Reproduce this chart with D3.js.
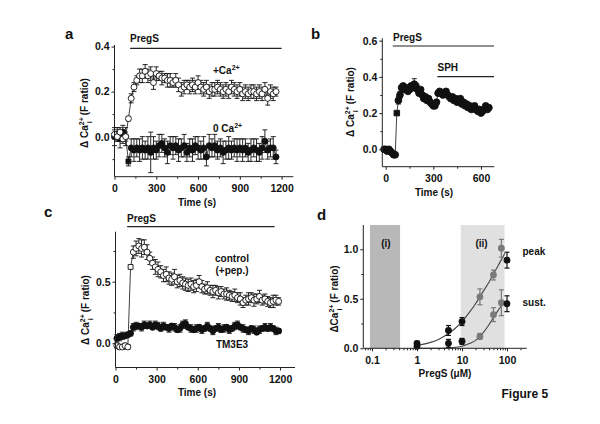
<!DOCTYPE html>
<html><head><meta charset="utf-8">
<script src="https://cdn.jsdelivr.net/npm/d3@7"></script>
<style>
body{margin:0;background:#fff}
text{font-family:"Liberation Sans",Arial,Helvetica,sans-serif;font-weight:bold;fill:#111}
</style>
</head><body><svg id="c" width="600" height="424"></svg>
<script>
// ---------- DATA ----------
// Panel a
const aTime = [0,20,40,60,80,100,120,140,160,180,200,220,240,260,280,300,320,340,360,380,400,420,440,460,480,500,520,540,560,580,600,620,640,660,680,700,720,740,760,780,800,820,840,860,880,900,920,940,960,980,1000,1020,1040,1060,1080,1100,1120,1140,1160];
const aPlusCa = [0.01,0.00,0.02,-0.01,0.00,0.08,0.17,0.22,0.25,0.27,0.27,0.29,0.27,0.28,0.24,0.28,0.27,0.26,0.26,0.25,0.25,0.24,0.25,0.23,0.21,0.22,0.23,0.22,0.23,0.22,0.24,0.22,0.21,0.22,0.20,0.21,0.21,0.22,0.21,0.20,0.21,0.20,0.22,0.21,0.20,0.21,0.19,0.20,0.19,0.20,0.20,0.19,0.20,0.19,0.21,0.17,0.20,0.19,0.20];
const aPlusErr = [0.02,0.02,0.02,0.02,0.02,0.01,0.02,0.02,0.02,0.03,0.03,0.03,0.03,0.03,0.03,0.03,0.02,0.03,0.02,0.03,0.03,0.02,0.03,0.03,0.03,0.03,0.02,0.03,0.03,0.03,0.03,0.03,0.03,0.03,0.03,0.03,0.03,0.03,0.03,0.03,0.03,0.03,0.03,0.03,0.03,0.03,0.03,0.03,0.03,0.03,0.03,0.03,0.03,0.03,0.03,0.03,0.03,0.03,0.02];
const aZeroCa = [0.00,0.01,-0.01,0.02,0.00,-0.11,-0.05,-0.06,-0.05,-0.06,-0.05,-0.06,-0.05,-0.07,-0.05,-0.06,-0.04,-0.03,-0.05,-0.07,-0.04,-0.05,-0.04,-0.06,-0.05,-0.04,-0.07,-0.05,-0.06,-0.04,-0.05,-0.06,-0.05,-0.09,-0.04,-0.05,-0.04,-0.06,-0.05,-0.07,-0.06,-0.05,-0.06,-0.05,-0.06,-0.05,-0.06,-0.05,-0.07,-0.06,-0.05,-0.06,-0.07,-0.05,-0.02,-0.06,-0.05,-0.05,-0.09];
const aZeroErr = [0.04,0.03,0.04,0.03,0.04,0.02,0.04,0.05,0.04,0.05,0.05,0.04,0.05,0.09,0.05,0.04,0.05,0.04,0.04,0.05,0.04,0.05,0.04,0.05,0.04,0.05,0.04,0.04,0.05,0.04,0.05,0.04,0.05,0.04,0.05,0.04,0.05,0.04,0.04,0.05,0.04,0.05,0.04,0.04,0.05,0.04,0.05,0.04,0.04,0.05,0.04,0.05,0.04,0.05,0.05,0.04,0.04,0.05,0.03];
const aPregS = [112, 1200];

// Panel b
const bTime = [-10,0,10,20,30,40,50,60,70,80,90,100,110,120,130,140,150,160,170,180,190,200,210,220,230,240,250,260,270,280,290,300,310,320,330,340,350,360,370,380,390,400,410,420,430,440,450,460,470,480,490,500,510,520,530,540,550,560,570,580,590,600,610,620,630,640,650];
const bVal = [0.00,0.00,-0.01,0.00,-0.01,-0.02,-0.03,-0.03,0.20,0.27,0.30,0.34,0.35,0.33,0.34,0.32,0.33,0.35,0.34,0.36,0.35,0.33,0.31,0.33,0.30,0.28,0.29,0.27,0.28,0.26,0.25,0.24,0.24,0.26,0.31,0.32,0.31,0.30,0.31,0.32,0.30,0.29,0.28,0.29,0.27,0.28,0.26,0.27,0.28,0.25,0.26,0.24,0.25,0.23,0.24,0.22,0.23,0.24,0.22,0.21,0.22,0.20,0.21,0.22,0.24,0.22,0.23];
const bErr = [0,0,0,0,0,0,0,0,0,0.02,0.02,0,0,0,0,0,0,0,0,0.03,0,0,0,0,0,0,0,0,0,0,0,0,0,0,0,0,0,0,0,0,0,0,0,0,0,0,0,0,0,0,0,0,0,0,0,0,0,0,0,0,0,0,0,0,0,0,0];
const bPregS = [44, 682];
const bSPH = [325, 682];

// Panel c
const cTime = [10,30,50,70,90,110,130,150,170,190,210,230,250,270,290,310,330,350,370,390,410,430,450,470,490,510,530,550,570,590,610,630,650,670,690,710,730,750,770,790,810,830,850,870,890,910,930,950,970,990,1010,1030,1050,1070,1090,1110,1130,1150,1170,1190];
const cCtrl = [-0.02,-0.03,-0.03,-0.02,-0.03,0.62,0.74,0.77,0.79,0.77,0.78,0.74,0.69,0.65,0.62,0.60,0.58,0.55,0.56,0.53,0.52,0.54,0.50,0.51,0.49,0.48,0.47,0.48,0.46,0.47,0.50,0.46,0.44,0.45,0.43,0.42,0.43,0.41,0.42,0.40,0.40,0.39,0.38,0.39,0.37,0.36,0.33,0.35,0.36,0.37,0.35,0.36,0.38,0.35,0.36,0.34,0.33,0.34,0.35,0.34];
const cCtrlErr = [0.02,0.02,0.02,0.02,0.02,0.01,0.05,0.06,0.06,0.07,0.06,0.06,0.05,0.05,0.06,0.06,0.05,0.05,0.06,0.05,0.05,0.06,0.05,0.05,0.05,0.05,0.05,0.05,0.05,0.05,0.05,0.05,0.04,0.05,0.04,0.05,0.04,0.05,0.04,0.04,0.05,0.04,0.04,0.05,0.04,0.05,0.04,0.04,0.05,0.04,0.05,0.04,0.05,0.04,0.04,0.04,0.04,0.05,0.04,0.03];
const cTM = [0.04,0.05,0.06,0.06,0.07,0.08,0.13,0.14,0.14,0.13,0.15,0.14,0.15,0.13,0.15,0.14,0.12,0.14,0.13,0.12,0.14,0.13,0.11,0.12,0.15,0.16,0.13,0.12,0.11,0.12,0.13,0.11,0.12,0.14,0.12,0.10,0.12,0.13,0.11,0.12,0.13,0.11,0.12,0.14,0.15,0.13,0.12,0.11,0.10,0.12,0.11,0.09,0.11,0.12,0.13,0.12,0.13,0.12,0.10,0.10];
const cTMErr = [0.03,0.03,0.03,0.02,0.02,0.02,0.03,0.03,0.02,0.03,0.03,0.02,0.03,0.02,0.03,0.03,0.02,0.03,0.02,0.03,0.02,0.03,0.02,0.03,0.03,0.03,0.02,0.03,0.02,0.03,0.02,0.03,0.02,0.03,0.02,0.03,0.02,0.03,0.02,0.03,0.02,0.03,0.02,0.03,0.03,0.02,0.03,0.02,0.03,0.02,0.03,0.02,0.03,0.02,0.03,0.02,0.03,0.02,0.03,0.02];
const cPregS = [85, 1160];

// Panel d
const dConc = [1, 5, 10, 25, 50, 75, 100];
const dPeak = [0.05, 0.18, 0.27, 0.52, 0.74, 1.01, 0.89];
const dPeakErr = [0.02, 0.05, 0.04, 0.08, 0.05, 0.09, 0.08];
const dSust = [0.02, 0.05, 0.07, 0.12, 0.34, 0.46, 0.45];
const dSustErr = [0.02, 0.04, 0.03, 0.03, 0.07, 0.13, 0.08];
const dGray = [false, false, false, true, true, true, false];
const dPeakFitX = [1, 2, 3, 5, 7, 10, 15, 20, 30, 40, 50, 70, 90];
const dPeakFitY = [0.03, 0.06, 0.09, 0.15, 0.20, 0.27, 0.37, 0.45, 0.58, 0.67, 0.75, 0.87, 0.96];
const dSustFitX = [1, 3, 5, 7, 10, 15, 20, 30, 40, 50, 70, 90];
const dSustFitY = [0.00, 0.00, 0.005, 0.01, 0.02, 0.05, 0.08, 0.16, 0.24, 0.31, 0.41, 0.47];
const dRegionI = [0.09, 0.42];
const dRegionII = [9.4, 88];

// Tick values
const tTicksMajor = [0, 300, 600, 900, 1200];
const tTicksMinor = [150, 450, 750, 1050];
const bTicksMajor = [0, 300, 600];
const bTicksMinor = [150, 450];
const aYMajor = [0, 0.2, 0.4], aYMinor = [-0.1, 0.1, 0.3];
const bYMajor = [0, 0.2, 0.4, 0.6], bYMinor = [0.1, 0.3, 0.5];
const cYMajor = [0, 0.5], cYMinor = [0.25, 0.75];
const dYMajor = [0, 0.5, 1.0], dYMinor = [0.25, 0.75];
const dXMajor = [0.1, 1, 10, 100];
const dXMinor = [0.07,0.08,0.09,0.2,0.3,0.4,0.5,0.6,0.7,0.8,0.9,2,3,4,5,6,7,8,9,20,30,40,50,60,70,80,90,200];

// ---------- DRAWING ----------
const svg = d3.select("#c");
const FONT = '"Liberation Sans", Arial, Helvetica, sans-serif';
const AX = "#222";

function axes(x, y, xMaj, xMin, yMaj, yMin, xFmt, yFmt) {
  const g = svg.append("g");
  const [x0, x1] = x.range();
  const [y0, y1] = y.range();
  const style = s => s.attr("font-size", 10.5).attr("font-family", FONT).attr("font-weight", "bold");
  const gx = g.append("g").attr("transform", `translate(0,${y0})`)
    .call(d3.axisBottom(x).tickValues(xMaj).tickSize(3).tickSizeOuter(0).tickPadding(5).tickFormat(xFmt));
  gx.select(".domain").remove(); style(gx);
  const gx2 = g.append("g").attr("transform", `translate(0,${y0})`)
    .call(d3.axisBottom(x).tickValues(xMin).tickSize(2).tickFormat(""));
  gx2.select(".domain").remove();
  const gy = g.append("g").attr("transform", `translate(${x0},0)`)
    .call(d3.axisLeft(y).tickValues(yMaj).tickSize(3).tickSizeOuter(0).tickPadding(2).tickFormat(yFmt));
  gy.select(".domain").remove(); style(gy);
  const gy2 = g.append("g").attr("transform", `translate(${x0},0)`)
    .call(d3.axisLeft(y).tickValues(yMin).tickSize(2).tickFormat(""));
  gy2.select(".domain").remove();
  g.selectAll(".tick line").attr("stroke", AX);
  g.selectAll(".tick text").attr("fill", "#111");
  g.append("line").attr("x1", x0).attr("x2", x1).attr("y1", y0).attr("y2", y0).attr("stroke", AX);
  g.append("line").attr("x1", x0).attr("x2", x0).attr("y1", y0).attr("y2", y1).attr("stroke", AX);
}

function series(x, y, xs, ys, errs, filled, squares, msize, color) {
  color = color || "#111";
  const g = svg.append("g");
  const pts = xs.map((t, i) => ({ t, v: ys[i], e: errs ? errs[i] : 0, i }));
  g.append("path").datum(pts)
    .attr("d", d3.line().x(d => x(d.t)).y(d => y(d.v)))
    .attr("fill", "none").attr("stroke", "#111").attr("stroke-width", 0.8);
  const eb = g.selectAll(".eb").data(pts.filter(d => d.e > 0)).join("g");
  eb.append("line").attr("x1", d => x(d.t)).attr("x2", d => x(d.t))
    .attr("y1", d => y(d.v - d.e)).attr("y2", d => y(d.v + d.e)).attr("stroke", color).attr("stroke-width", 0.9);
  eb.append("line").attr("x1", d => x(d.t) - 2.5).attr("x2", d => x(d.t) + 2.5)
    .attr("y1", d => y(d.v + d.e)).attr("y2", d => y(d.v + d.e)).attr("stroke", color).attr("stroke-width", 0.9);
  eb.append("line").attr("x1", d => x(d.t) - 2.5).attr("x2", d => x(d.t) + 2.5)
    .attr("y1", d => y(d.v - d.e)).attr("y2", d => y(d.v - d.e)).attr("stroke", color).attr("stroke-width", 0.9);
  const sq = new Set(squares || []);
  g.selectAll(".pt").data(pts).join("path")
    .attr("transform", d => `translate(${x(d.t)},${y(d.v)})`)
    .attr("d", d => d3.symbol().type(sq.has(d.i) ? d3.symbolSquare : d3.symbolCircle).size(sq.has(d.i) ? msize * 0.85 : msize)())
    .attr("fill", filled ? color : "#fff").attr("stroke", color).attr("stroke-width", 0.9);
}

function text(x, y, str, size, anchor) {
  return svg.append("text").attr("x", x).attr("y", y).attr("font-size", size || 10)
    .attr("text-anchor", anchor || "start").text(str);
}
function caLabel(x, y, pre, anchor) {
  const t = svg.append("text").attr("x", x).attr("y", y).attr("font-size", 10).attr("text-anchor", anchor || "start");
  t.append("tspan").text(pre);
  t.append("tspan").attr("font-size", 7).attr("dy", -4).text("2+");
  return t;
}
function yLabel(x, yc, delta) {
  const t = svg.append("text").attr("transform", `translate(${x},${yc}) rotate(-90)`)
    .attr("text-anchor", "middle").attr("font-size", 10);
  t.append("tspan").text(delta + "Ca");
  t.append("tspan").attr("font-size", 7).attr("dy", -4).text("2+");
  t.append("tspan").attr("font-size", 7).attr("dx", -6).attr("dy", 7.5).text("i");
  t.append("tspan").attr("dx", 6).attr("dy", -3.5).text("(F ratio)");
}
function stimBar(x, t0, t1, yPix) {
  svg.append("line").attr("x1", x(t0)).attr("x2", x(t1)).attr("y1", yPix).attr("y2", yPix)
    .attr("stroke", "#222").attr("stroke-width", 1.2);
}
const f1 = d3.format(".1f"), fd = d3.format("d");

// Panel a
{
  const x = d3.scaleLinear().domain([0, 1284]).range([114.5, 293.3]);
  const y = d3.scaleLinear().domain([-0.178, 0.407]).range([176.7, 45]);
  series(x, y, aTime, aZeroCa, aZeroErr, true, [5], 28);
  series(x, y, aTime, aPlusCa, aPlusErr, false, [], 28);
  axes(x, y, tTicksMajor, tTicksMinor, aYMajor, aYMinor, fd, f1);
  stimBar(x, aPregS[0], aPregS[1], 48.3);
  text(130, 41.5, "PregS");
  caLabel(213, 73.5, "+Ca");
  caLabel(213, 131.5, "0 Ca");
  text(197, 206, "Time (s)", 10, "middle");
  yLabel(88, 113, "Δ ");
  text(65, 39, "a", 15);
}
// Panel b
{
  const x = d3.scaleLinear().domain([-21.4, 684]).range([382.3, 494.3]);
  const y = d3.scaleLinear().domain([-0.096, 0.613]).range([166.7, 38.3]);
  series(x, y, bTime, bVal, bErr, true, [8], 36);
  axes(x, y, bTicksMajor, bTicksMinor, bYMajor, bYMinor, fd, f1);
  stimBar(x, bPregS[0], bPregS[1], 46);
  stimBar(x, bSPH[0], bSPH[1], 76.7);
  text(393, 40.5, "PregS");
  text(437.5, 70.5, "SPH");
  text(434, 196, "Time (s)", 10, "middle");
  yLabel(354, 102, "Δ ");
  text(311, 39, "b", 15);
}
// Panel c
{
  const x = d3.scaleLinear().domain([0, 1309]).range([115.5, 295]);
  const y = d3.scaleLinear().domain([-0.197, 0.906]).range([367.5, 231.7]);
  series(x, y, cTime, cTM, cTMErr, true, [], 28);
  series(x, y, cTime, cCtrl, cCtrlErr, false, [5], 28);
  axes(x, y, tTicksMajor, tTicksMinor, cYMajor, cYMinor, fd, f1);
  stimBar(x, cPregS[0], cPregS[1], 226.7);
  text(127, 221.5, "PregS");
  text(232, 262, "control", 10, "middle");
  text(232, 274, "(+pep.)", 10, "middle");
  text(232, 347.5, "TM3E3", 10, "middle");
  text(197, 396, "Time (s)", 10, "middle");
  yLabel(89, 310, "Δ ");
  text(44, 217, "c", 15);
}
// Panel d
{
  const x = d3.scaleLog().domain([0.064, 274]).range([363.3, 526.7]);
  const y = d3.scaleLinear().domain([0, 1.245]).range([348.3, 225]);
  svg.append("rect").attr("x", x(dRegionI[0])).attr("width", x(dRegionI[1]) - x(dRegionI[0]))
    .attr("y", y(1.245)).attr("height", y(0) - y(1.245)).attr("fill", "#b8b8b8");
  svg.append("rect").attr("x", x(dRegionII[0])).attr("width", x(dRegionII[1]) - x(dRegionII[0]))
    .attr("y", y(1.245)).attr("height", y(0) - y(1.245)).attr("fill", "#e0e0e0");
  const line = d3.line().x(d => x(d[0])).y(d => y(d[1])).curve(d3.curveMonotoneX);
  svg.append("path").datum(dPeakFitX.map((c, i) => [c, dPeakFitY[i]])).attr("d", line)
    .attr("fill", "none").attr("stroke", "#444").attr("stroke-width", 1.1);
  svg.append("path").datum(dSustFitX.map((c, i) => [c, dSustFitY[i]])).attr("d", line)
    .attr("fill", "none").attr("stroke", "#444").attr("stroke-width", 1.1);
  const g = svg.append("g");
  [[dPeak, dPeakErr], [dSust, dSustErr]].forEach(([vals, errs]) => {
    dConc.forEach((c, i) => {
      const col = dGray[i] ? "#7a7a7a" : "#111";
      const cx = x(c), v = vals[i], e = errs[i];
      g.append("line").attr("x1", cx).attr("x2", cx).attr("y1", y(v - e)).attr("y2", y(v + e)).attr("stroke", col).attr("stroke-width", 1.2);
      [v - e, v + e].forEach(w => g.append("line").attr("x1", cx - 2.5).attr("x2", cx + 2.5).attr("y1", y(w)).attr("y2", y(w)).attr("stroke", col).attr("stroke-width", 1.2));
      g.append("circle").attr("cx", cx).attr("cy", y(v)).attr("r", 3.4).attr("fill", col);
    });
  });
  axes(x, y, dXMajor, dXMinor, dYMajor, dYMinor, d => (d >= 1 ? fd(d) : String(d)), f1);
  text(386, 246.5, "(i)", 10, "middle");
  text(481.5, 246.5, "(ii)", 10, "middle");
  text(522.5, 255, "peak");
  text(522.5, 306, "sust.");
  text(445, 377, "PregS (μM)", 10, "middle");
  yLabel(338, 299, "Δ");
  text(317, 220, "d", 15);
  text(501.5, 398, "Figure 5", 12);
}
</script></body></html>
